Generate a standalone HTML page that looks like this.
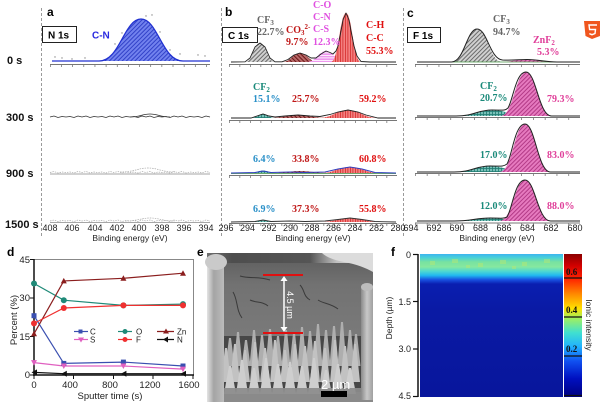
<!DOCTYPE html>
<html><head><meta charset="utf-8"><style>
html,body{margin:0;padding:0;background:#fff;}
svg{display:block;}
.t{font-family:"Liberation Sans",Arial,sans-serif;}
.s{font-family:"Liberation Serif","Times New Roman",serif;font-weight:bold;font-size:10px;}
</style></head><body>
<svg width="600" height="403" viewBox="0 0 600 403" xmlns="http://www.w3.org/2000/svg" class="t">
<defs>
<pattern id="pBlue" width="3" height="3" patternUnits="userSpaceOnUse" patternTransform="rotate(45)"><rect width="3" height="3" fill="#7282ee"/><rect width="1" height="3" fill="#3242c8"/></pattern>
<pattern id="pGrey" width="3" height="3" patternUnits="userSpaceOnUse" patternTransform="rotate(45)"><rect width="3" height="3" fill="#d0d0d0"/><rect width="1" height="3" fill="#6a6a6a"/></pattern>
<pattern id="pRed" width="2.5" height="3" patternUnits="userSpaceOnUse"><rect width="2.5" height="3" fill="#f48080"/><rect width="0.8" height="3" fill="#d42a2a"/></pattern>
<pattern id="pMag" width="3" height="2.5" patternUnits="userSpaceOnUse"><rect width="3" height="2.5" fill="#ee98ee"/><rect width="3" height="0.8" fill="#ffffff"/></pattern>
<pattern id="pDred" width="3" height="3" patternUnits="userSpaceOnUse" patternTransform="rotate(-45)"><rect width="3" height="3" fill="#b86868"/><rect width="1" height="3" fill="#6a1818"/></pattern>
<pattern id="pTeal" width="3" height="3" patternUnits="userSpaceOnUse"><rect width="3" height="3" fill="#78c0b8"/><rect width="0.8" height="3" fill="#1f7a70"/><rect width="3" height="0.8" fill="#1f7a70"/></pattern>
<pattern id="pPink" width="3" height="3" patternUnits="userSpaceOnUse" patternTransform="rotate(45)"><rect width="3" height="3" fill="#e67abf"/><rect width="1" height="3" fill="#b23a86"/></pattern>
<linearGradient id="gCbar" x1="0" y1="0" x2="0" y2="1">
<stop offset="0" stop-color="#8b0000"/><stop offset="0.08" stop-color="#d00000"/><stop offset="0.17" stop-color="#ff2000"/><stop offset="0.27" stop-color="#ff8000"/><stop offset="0.38" stop-color="#ffe000"/><stop offset="0.45" stop-color="#a0f060"/><stop offset="0.55" stop-color="#40e0d0"/><stop offset="0.65" stop-color="#20b0ff"/><stop offset="0.75" stop-color="#1050f0"/><stop offset="0.87" stop-color="#0010c0"/><stop offset="1" stop-color="#000080"/>
</linearGradient>
<linearGradient id="gHeat" x1="0" y1="0" x2="0" y2="1">
<stop offset="0" stop-color="#3cb4f0"/><stop offset="0.025" stop-color="#48d0d8"/><stop offset="0.055" stop-color="#78e2a0"/><stop offset="0.09" stop-color="#86e8a0"/><stop offset="0.12" stop-color="#50d8d0"/><stop offset="0.15" stop-color="#20b8f0"/><stop offset="0.18" stop-color="#1850e0"/><stop offset="0.21" stop-color="#0a1eb0"/><stop offset="0.4" stop-color="#0a1aa4"/><stop offset="1" stop-color="#08169c"/>
</linearGradient>
<linearGradient id="gTop" x1="0" y1="0" x2="1" y2="0">
<stop offset="0" stop-color="#707070"/><stop offset="0.15" stop-color="#4e4e4e"/><stop offset="0.62" stop-color="#555555"/><stop offset="0.78" stop-color="#c0c0c0"/><stop offset="1" stop-color="#e6e6e6"/>
</linearGradient>
<linearGradient id="gMid" x1="0" y1="0" x2="0" y2="1">
<stop offset="0" stop-color="#626262"/><stop offset="0.3" stop-color="#727272"/><stop offset="1" stop-color="#7a7a7a"/>
</linearGradient>
<linearGradient id="gPil" x1="0" y1="0" x2="1" y2="0">
<stop offset="0" stop-color="#e4e4e4"/><stop offset="0.4" stop-color="#a4a4a4"/><stop offset="1" stop-color="#bcbcbc"/>
</linearGradient>
<linearGradient id="gPil2" x1="0" y1="0" x2="1" y2="0">
<stop offset="0" stop-color="#8a8a8a"/><stop offset="0.5" stop-color="#c8c8c8"/><stop offset="1" stop-color="#a0a0a0"/>
</linearGradient>
<path id="zz" d="M0,0 l4,-1 4,1.5 4,-1 4,0.5 4,-0.5 4,1 4,-1.5 4,1 4,-1 4,1.5 4,-1 4,0.5 4,-0.5 4,1 4,-1.5 4,1 4,-1 4,1.5 4,-1 4,0.5 4,-0.5 4,1 4,-1.5 4,1 4,-1 4,1.5 4,-1 4,0.5 4,-0.5 4,1 4,-1.5 4,1 4,-1 4,1.5 4,-1 4,0.5 4,-0.5 4,1 4,-1.5 4,1"/>
</defs>
<rect width="600" height="403" fill="#fff"/>

<!-- separators -->
<g stroke="#9a9a9a" stroke-width="1" stroke-dasharray="3 2">
<line x1="41.5" y1="8" x2="41.5" y2="236"/>
<line x1="221.5" y1="8" x2="221.5" y2="236"/>
<line x1="403.5" y1="8" x2="403.5" y2="236"/>
</g>

<!-- row labels -->
<g font-weight="bold" font-size="11" fill="#111">
<text x="7" y="64">0 s</text>
<text x="6" y="121">300 s</text>
<text x="6" y="177">900 s</text>
<text x="5" y="228">1500 s</text>
</g>

<!-- ===== Panel a ===== -->
<text x="47" y="16" font-weight="bold" font-size="12">a</text>
<rect x="42.5" y="26.5" width="34" height="16" fill="#fff" stroke="#222"/>
<text x="48" y="38.5" font-weight="bold" font-size="10">N 1s</text>
<text x="92" y="38.5" font-weight="bold" font-size="10" fill="#2a2ae0">C-N</text>
<path d="M99,61 C120,61 124,19 141,19 C158,19 162,61 183,61 Z" fill="url(#pBlue)"/>
<path d="M52,61 L99,61 C120,61 124,19 141,19 C158,19 162,61 183,61 L210,61" fill="none" stroke="#2030d0" stroke-width="1.2"/>
<line x1="50" y1="64.5" x2="210" y2="64.5" stroke="#777" stroke-width="1"/>
<line x1="50" y1="66" x2="210" y2="66" stroke="#666" stroke-width="2" stroke-dasharray="0.7 10.45"/>
<g fill="#888">
<circle cx="55" cy="57" r="0.7"/><circle cx="62" cy="58" r="0.7"/><circle cx="72" cy="59" r="0.7"/><circle cx="85" cy="58" r="0.7"/><circle cx="115" cy="44" r="0.7"/><circle cx="122" cy="33" r="0.7"/><circle cx="146" cy="16" r="0.7"/><circle cx="152" cy="15" r="0.7"/><circle cx="160" cy="32" r="0.7"/><circle cx="170" cy="50" r="0.7"/><circle cx="180" cy="54" r="0.7"/><circle cx="198" cy="55" r="0.7"/><circle cx="205" cy="56" r="0.7"/>
</g>
<use href="#zz" x="50" y="117" fill="none" stroke="#333" stroke-width="0.8"/>
<path d="M130,117 C140,117 142,114 150,114 C158,114 160,117 170,117" fill="none" stroke="#333" stroke-width="0.8"/>
<line x1="50" y1="174" x2="210" y2="174" stroke="#888" stroke-width="0.8"/>
<use href="#zz" x="50" y="172.5" fill="none" stroke="#aaa" stroke-width="0.7" stroke-dasharray="1.5 1"/>
<path d="M120,172 C135,172 138,168 148,168 C158,168 161,172 175,172" fill="none" stroke="#aaa" stroke-width="0.7" stroke-dasharray="1.5 1"/>
<line x1="50" y1="222.5" x2="210" y2="222.5" stroke="#888" stroke-width="0.8"/>
<use href="#zz" x="50" y="221" fill="none" stroke="#aaa" stroke-width="0.7" stroke-dasharray="1.5 1"/>
<path d="M125,221 C138,221 141,218 150,218 C159,218 162,221 175,221" fill="none" stroke="#aaa" stroke-width="0.7" stroke-dasharray="1.5 1"/>

<!-- ===== Panel b ===== -->
<text x="225" y="16" font-weight="bold" font-size="12">b</text>
<rect x="222.5" y="27.5" width="35" height="15" fill="#fff" stroke="#222"/>
<text x="228" y="39" font-weight="bold" font-size="10">C 1s</text>
<!-- 0s -->
<path d="M245,62 C252.5,62 254,43 260,43 C266,43 267.5,62 275,62 Z" fill="url(#pGrey)"/>
<path d="M282,62 C291,62 292.8,53 300,53 C307.2,53 309,62 318,62 Z" fill="url(#pDred)"/>
<path d="M306.5,62 C316.25,62 318.2,51 326,51 C333.8,51 335.75,62 345.5,62 Z" fill="url(#pMag)"/>
<path d="M331,62 C338.5,62 340,13 346,13 C352,13 353.5,62 361,62 Z" fill="url(#pRed)"/>
<polyline points="231,62 245,61.8 250,58 255,47 260,43 265,47 270,58 275,61.8 282,61.8 288,59.5 294,55 300,53 306,55 311,58 316,58 321,54 326,51 330,52.5 333,54 336,51 338,46 341,31 343,20 346,13 349,20 351,31 354,46 357,56 361,61.5 370,62 396,62" fill="none" stroke="#222" stroke-width="0.9" stroke-linejoin="round"/>
<line x1="229" y1="64.5" x2="397" y2="64.5" stroke="#777"/>
<line x1="229" y1="66" x2="397" y2="66" stroke="#666" stroke-width="2" stroke-dasharray="0.7 9.8"/>
<text class="s" x="257" y="23" fill="#666">CF<tspan font-size="7" dy="2">3</tspan></text>
<text class="s" x="257" y="35" fill="#666">22.7%</text>
<text class="s" x="286" y="33" fill="#c01818">CO<tspan font-size="7" dy="2">3</tspan><tspan font-size="7" dy="-6">2-</tspan></text>
<text class="s" x="286" y="45" fill="#c01818">9.7%</text>
<text class="s" x="313" y="8" fill="#e050e0">C-O</text>
<text class="s" x="313" y="20" fill="#e050e0">C-N</text>
<text class="s" x="313" y="32" fill="#e050e0">C-S</text>
<text class="s" x="313" y="45" fill="#e050e0">12.3%</text>
<text class="s" x="366" y="28" fill="#e01010">C-H</text>
<text class="s" x="366" y="41" fill="#e01010">C-C</text>
<text class="s" x="366" y="54" fill="#e01010">55.3%</text>
<!-- 300s -->
<path d="M268,118 C283,118 286,115 298,115 C310,115 313,118 328,118 Z" fill="url(#pDred)"/>
<path d="M318,118 C333,118 336,110 348,110 C360,110 363,118 378,118 Z" fill="url(#pRed)"/>
<path d="M251,118 C257,118 258.2,114 263,114 C267.8,114 269,118 275,118 Z" fill="url(#pTeal)"/>
<polyline points="231,118 251,118 257,116 263,114 269,116 275,117 285,116 298,115 310,116 320,116.5 330,114.5 338,112 348,110 358,112 366,115 378,118 396,118" fill="none" stroke="#222" stroke-width="0.9"/>
<line x1="229" y1="120.5" x2="397" y2="120.5" stroke="#777"/>
<line x1="229" y1="122" x2="397" y2="122" stroke="#666" stroke-width="2" stroke-dasharray="0.7 9.8"/>
<text class="s" x="253" y="90" fill="#1a8a7a">CF<tspan font-size="7" dy="2">2</tspan></text>
<text class="s" x="253" y="102" fill="#2a90c8">15.1%</text>
<text class="s" x="292" y="102" fill="#c01818">25.7%</text>
<text class="s" x="359" y="102" fill="#e01010">59.2%</text>
<!-- 900s -->
<path d="M270,173 C285,173 288,171 300,171 C312,171 315,173 330,173 Z" fill="url(#pDred)"/>
<path d="M320,173 C335,173 338,167 350,167 C362,167 365,173 380,173 Z" fill="url(#pRed)"/>
<path d="M251,173 C257,173 258.2,170.5 263,170.5 C267.8,170.5 269,173 275,173 Z" fill="url(#pTeal)"/>
<line x1="231" y1="173.5" x2="396" y2="173.5" stroke="#3a8a3a" stroke-width="0.8"/>
<polyline points="231,173 255,172.5 263,171 271,172.5 290,172 305,172.5 325,172 338,169 350,167 362,169 375,172.5 396,173" fill="none" stroke="#3040c0" stroke-width="1"/>
<line x1="229" y1="175.5" x2="397" y2="175.5" stroke="#777"/>
<line x1="229" y1="177" x2="397" y2="177" stroke="#666" stroke-width="2" stroke-dasharray="0.7 9.8"/>
<text class="s" x="253" y="162" fill="#2a90c8">6.4%</text>
<text class="s" x="292" y="162" fill="#c01818">33.8%</text>
<text class="s" x="359" y="162" fill="#e01010">60.8%</text>
<!-- 1500s -->
<path d="M320,222 C335,222 338,218 350,218 C362,218 365,222 380,222 Z" fill="url(#pRed)"/>
<path d="M251,222 C257,222 258.2,220 263,220 C267.8,220 269,222 275,222 Z" fill="url(#pTeal)"/>
<polyline points="231,222 255,221.5 263,220 271,221.5 290,221 305,221.5 325,221 338,219.5 350,218 362,219.5 375,221.5 396,222" fill="none" stroke="#333" stroke-width="0.9"/>
<line x1="229" y1="223.5" x2="397" y2="223.5" stroke="#777"/>
<line x1="229" y1="225" x2="397" y2="225" stroke="#666" stroke-width="2" stroke-dasharray="0.7 9.8"/>
<text class="s" x="253" y="212" fill="#2a90c8">6.9%</text>
<text class="s" x="292" y="212" fill="#c01818">37.3%</text>
<text class="s" x="359" y="212" fill="#e01010">55.8%</text>

<!-- ===== Panel c ===== -->
<text x="407" y="17" font-weight="bold" font-size="12">c</text>
<rect x="407.5" y="27.5" width="33" height="15" fill="#fff" stroke="#222"/>
<text x="413" y="39" font-weight="bold" font-size="10">F 1s</text>
<!-- 0s -->
<path d="M451.5,62 C464.25,62 466.8,29 477,29 C487.2,29 489.75,62 502.5,62 Z" fill="url(#pGrey)"/>
<path d="M497,62 C512,62 515,59.5 527,59.5 C539,59.5 542,62 557,62 Z" fill="url(#pPink)"/>
<line x1="417" y1="62" x2="580" y2="62" stroke="#4a9a4a" stroke-width="0.8"/>
<path d="M417,62 L451.5,62 C464.25,62 466.8,29 477,29 C487.2,29 489.75,59 502.5,60 C512,60.5 520,59.5 527,59.5 C539,59.5 545,62 557,62 L580,62" fill="none" stroke="#222" stroke-width="1"/>
<line x1="415" y1="64.5" x2="580" y2="64.5" stroke="#777"/>
<line x1="415" y1="66" x2="580" y2="66" stroke="#666" stroke-width="2" stroke-dasharray="0.7 11.1"/>
<text class="s" x="493" y="22" fill="#666">CF<tspan font-size="7" dy="2">3</tspan></text>
<text class="s" x="493" y="35" fill="#666">94.7%</text>
<text class="s" x="533" y="43" fill="#e0409a">ZnF<tspan font-size="7" dy="2">2</tspan></text>
<text class="s" x="537" y="55" fill="#e0409a">5.3%</text>
<!-- 300s -->
<path d="M456,116 C474,116 477.6,110 492,110 C506.4,110 510,116 528,116 Z" fill="url(#pTeal)"/>
<path d="M500.5,116 C513.25,116 515.8,72 526,72 C536.2,72 538.75,116 551.5,116 Z" fill="url(#pPink)"/>
<path d="M417,116 L456,116 C474,116 477.6,110 492,110 C502,110 505,111 508,108 C513,100 515.8,72 526,72 C536.2,72 538.75,116 551.5,116 L580,116" fill="none" stroke="#222" stroke-width="1"/>
<line x1="415" y1="117.5" x2="580" y2="117.5" stroke="#777"/>
<line x1="415" y1="119" x2="580" y2="119" stroke="#666" stroke-width="2" stroke-dasharray="0.7 11.1"/>
<text class="s" x="480" y="89" fill="#1a8a7a">CF<tspan font-size="7" dy="2">2</tspan></text>
<text class="s" x="480" y="101" fill="#1a8a7a">20.7%</text>
<text class="s" x="547" y="102" fill="#e0409a">79.3%</text>
<!-- 900s -->
<path d="M454,172 C472,172 475.6,166 490,166 C504.4,166 508,172 526,172 Z" fill="url(#pTeal)"/>
<path d="M499.5,172 C512.25,172 514.8,124 525,124 C535.2,124 537.75,172 550.5,172 Z" fill="url(#pPink)"/>
<path d="M417,172 L454,172 C472,172 475.6,166 490,166 C500,166 503,167 507,164 C512,156 514.8,124 525,124 C535.2,124 537.75,172 550.5,172 L580,172" fill="none" stroke="#222" stroke-width="1"/>
<line x1="415" y1="173.5" x2="580" y2="173.5" stroke="#777"/>
<line x1="415" y1="175" x2="580" y2="175" stroke="#666" stroke-width="2" stroke-dasharray="0.7 11.1"/>
<text class="s" x="480" y="158" fill="#1a8a7a">17.0%</text>
<text class="s" x="547" y="158" fill="#e0409a">83.0%</text>
<!-- 1500s -->
<path d="M454,221 C472,221 475.6,218 490,218 C504.4,218 508,221 526,221 Z" fill="url(#pTeal)"/>
<path d="M499.5,221 C512.25,221 514.8,180 525,180 C535.2,180 537.75,221 550.5,221 Z" fill="url(#pPink)"/>
<path d="M417,221 L454,221 C472,221 475.6,218 490,218 C500,218 503,219 507,217 C512,210 514.8,180 525,180 C535.2,180 537.75,221 550.5,221 L580,221" fill="none" stroke="#222" stroke-width="1"/>
<line x1="415" y1="223" x2="580" y2="223" stroke="#777"/>
<line x1="415" y1="224.5" x2="580" y2="224.5" stroke="#666" stroke-width="2" stroke-dasharray="0.7 11.1"/>
<text class="s" x="480" y="209" fill="#1a8a7a">12.0%</text>
<text class="s" x="547" y="209" fill="#e0409a">88.0%</text>

<!-- bottom axis tick labels -->
<g font-size="9" fill="#222" text-anchor="middle">
<text x="50" y="231">408</text><text x="72" y="231">406</text><text x="95" y="231">404</text><text x="117" y="231">402</text><text x="139" y="231">400</text><text x="162" y="231">398</text><text x="184" y="231">396</text><text x="206" y="231">394</text>
<text x="226" y="231">296</text><text x="247.5" y="231">294</text><text x="269" y="231">292</text><text x="290.5" y="231">290</text><text x="312" y="231">288</text><text x="333.5" y="231">286</text><text x="355" y="231">284</text><text x="376.5" y="231">282</text><text x="398" y="231">280</text>
<text x="411" y="231">694</text><text x="434" y="231">692</text><text x="457" y="231">690</text><text x="480.5" y="231">688</text><text x="504" y="231">686</text><text x="527.5" y="231">684</text><text x="551" y="231">682</text><text x="575" y="231">680</text>
</g>
<g font-size="8.5" fill="#222" text-anchor="middle">
<text x="130" y="241">Binding energy (eV)</text>
<text x="313" y="241">Binding energy (eV)</text>
<text x="497" y="241">Binding energy (eV)</text>
</g>

<!-- icon -->
<path d="M584,21 H600 V36 L592,39 L585.5,36 Z" fill="#f0561e"/>
<path d="M597,25 H589 L589.6,29.5 H595.5 L595,33.5 L592,34.7 L589.3,33.6" fill="none" stroke="#fff" stroke-width="1.4"/>

<!-- ===== Panel d ===== -->
<text x="7" y="256" font-weight="bold" font-size="12">d</text>
<line x1="34" y1="259.5" x2="193" y2="259.5" stroke="#888"/>
<line x1="193.5" y1="259" x2="193.5" y2="375" stroke="#888"/>
<line x1="34" y1="259" x2="34" y2="376" stroke="#111" stroke-width="1.5"/>
<line x1="33" y1="375" x2="194" y2="375" stroke="#111" stroke-width="1.5"/>
<g stroke="#111" stroke-width="1">
<line x1="30" y1="259.5" x2="34" y2="259.5"/><line x1="30" y1="298" x2="34" y2="298"/><line x1="30" y1="336.5" x2="34" y2="336.5"/><line x1="30" y1="375" x2="34" y2="375"/>
<line x1="34" y1="375" x2="34" y2="379"/><line x1="73.5" y1="375" x2="73.5" y2="379"/><line x1="113.5" y1="375" x2="113.5" y2="379"/><line x1="153" y1="375" x2="153" y2="379"/><line x1="193" y1="375" x2="193" y2="379"/>
</g>
<g font-size="9.5" fill="#222" text-anchor="end">
<text x="30" y="263">45</text><text x="30" y="301">30</text><text x="30" y="340">15</text><text x="30" y="378">0</text>
</g>
<g font-size="9.5" fill="#222" text-anchor="middle">
<text x="34" y="388">0</text><text x="70" y="388">400</text><text x="110" y="388">800</text><text x="150" y="388">1200</text><text x="189" y="388">1600</text>
</g>
<text x="110" y="399" font-size="9.5" fill="#222" text-anchor="middle">Sputter time (s)</text>
<text transform="translate(17,320) rotate(-90)" font-size="9.5" fill="#222" text-anchor="middle">Percent (%)</text>
<!-- series -->
<polyline points="34,315.7 63.8,363.4 123.4,362.1 183,366" fill="none" stroke="#3a4fb0" stroke-width="1.2"/>
<polyline points="34,283.5 63.8,300.2 123.4,305.4 183,304.1" fill="none" stroke="#1f8a78" stroke-width="1.2"/>
<polyline points="34,333.8 63.8,280.9 123.4,278.3 183,273.2" fill="none" stroke="#8b1e1e" stroke-width="1.2"/>
<polyline points="34,323.4 63.8,308 123.4,305.4 183,305.4" fill="none" stroke="#f03030" stroke-width="1.2"/>
<polyline points="34,362.6 63.8,366 123.4,366 183,369.1" fill="none" stroke="#e060c0" stroke-width="1.2"/>
<polyline points="34,372.4 63.8,373.7 123.4,373.7 183,373.7" fill="none" stroke="#111" stroke-width="1.2"/>
<g fill="#3a4fb0"><rect x="31.5" y="313.2" width="5" height="5"/><rect x="61.3" y="360.9" width="5" height="5"/><rect x="120.9" y="359.6" width="5" height="5"/><rect x="180.5" y="363.5" width="5" height="5"/></g>
<g fill="#1f8a78"><circle cx="34" cy="283.5" r="3"/><circle cx="63.8" cy="300.2" r="3"/><circle cx="123.4" cy="305.4" r="3"/><circle cx="183" cy="304.1" r="3"/></g>
<g fill="#f03030"><circle cx="34" cy="323.4" r="3"/><circle cx="63.8" cy="308" r="3"/><circle cx="123.4" cy="305.4" r="3"/><circle cx="183" cy="305.4" r="3"/></g>
<g fill="#8b1e1e"><polygon points="31,336.3 37,336.3 34,330.8"/><polygon points="60.8,283.4 66.8,283.4 63.8,277.9"/><polygon points="120.4,280.8 126.4,280.8 123.4,275.3"/><polygon points="180,275.7 186,275.7 183,270.2"/></g>
<g fill="#e060c0"><polygon points="31,360.1 37,360.1 34,365.6"/><polygon points="60.8,363.5 66.8,363.5 63.8,369"/><polygon points="120.4,363.5 126.4,363.5 123.4,369"/><polygon points="180,366.6 186,366.6 183,372.1"/></g>
<g fill="#111"><polygon points="37,369.4 37,375.4 31.5,372.4"/><polygon points="66.8,370.7 66.8,376.7 61.3,373.7"/><polygon points="126.4,370.7 126.4,376.7 120.9,373.7"/><polygon points="186,370.7 186,376.7 180.5,373.7"/></g>
<!-- legend -->
<g stroke-width="1.2">
<line x1="74" y1="331.5" x2="88" y2="331.5" stroke="#3a4fb0"/><rect x="78.5" y="329.5" width="4" height="4" fill="#3a4fb0"/>
<line x1="118" y1="331.5" x2="132" y2="331.5" stroke="#1f8a78"/><circle cx="125" cy="331.5" r="2.5" fill="#1f8a78"/>
<line x1="157" y1="331.5" x2="174" y2="331.5" stroke="#8b1e1e"/><polygon points="163,333.5 169,333.5 166,328.5" fill="#8b1e1e"/>
<line x1="74" y1="339.5" x2="88" y2="339.5" stroke="#e060c0"/><polygon points="78,337.5 84,337.5 81,342.5" fill="#e060c0"/>
<line x1="118" y1="339.5" x2="132" y2="339.5" stroke="#f03030"/><circle cx="125" cy="339.5" r="2.5" fill="#f03030"/>
<line x1="157" y1="339.5" x2="174" y2="339.5" stroke="#111"/><polygon points="168,336.5 168,342.5 163,339.5" fill="#111"/>
</g>
<g font-size="8" fill="#222">
<text x="90" y="334.5">C</text><text x="136" y="334.5">O</text><text x="177" y="334.5">Zn</text>
<text x="90" y="342.5">S</text><text x="136" y="342.5">F</text><text x="177" y="342.5">N</text>
</g>

<!-- ===== Panel e (SEM) ===== -->
<text x="197" y="256" font-weight="bold" font-size="12">e</text>
<rect x="207" y="253" width="166" height="149" fill="#707070"/>
<rect x="207" y="262" width="166" height="76" fill="url(#gMid)"/>
<rect x="207" y="253" width="166" height="10" fill="url(#gTop)"/>
<path d="M322,253 L373,253 L373,272 C366,268 356,264 344,262 C334,260 326,257 322,253 Z" fill="#dcdcdc"/>
<g fill="none" stroke="#3a3a3a" stroke-width="1">
<path d="M233,292 C238,300 236,310 242,318"/><path d="M250,300 C256,303 262,301 268,306"/><path d="M318,300 C324,304 330,303 338,309"/><path d="M300,285 C305,290 303,296 310,300"/><path d="M240,276 C250,279 258,276 270,280"/>
</g>
<rect x="224" y="336" width="138" height="56" fill="#474747"/>
<path fill="#aeaeae" d="M225.5,366L229,338L231,338L234.5,366ZM233.5,366L237,332L239,332L242.5,366ZM241.5,366L245,340L247,340L250.5,366ZM249.5,366L253,330L255,330L258.5,366ZM257.5,366L261,335L263,335L266.5,366ZM265.5,366L269,329L271,329L274.5,366ZM273.5,366L277,336L279,336L282.5,366ZM281.5,366L285,330L287,330L290.5,366ZM289.5,366L293,333L295,333L298.5,366ZM297.5,366L301,327L303,327L306.5,366ZM305.5,366L309,331L311,331L314.5,366ZM313.5,366L317,324L319,324L322.5,366ZM321.5,366L325,330L327,330L330.5,366ZM329.5,366L333,326L335,326L338.5,366ZM337.5,366L341,322L343,322L346.5,366ZM345.5,366L349,330L351,330L354.5,366ZM351.5,366L355,334L357,334L360.5,366Z"/>
<path fill="#c2c2c2" d="M221,382L225,348L227,348L231,382ZM230,382L234,344L236,344L240,382ZM240,382L244,350L246,350L250,382ZM250,382L254,342L256,342L260,382ZM260,382L264,348L266,348L270,382ZM270,382L274,340L276,340L280,382ZM280,382L284,350L286,350L290,382ZM290,382L294,344L296,344L300,382ZM300,382L304,346L306,346L310,382ZM310,382L314,341L316,341L320,382ZM320,382L324,348L326,348L330,382ZM330,382L334,340L336,340L340,382ZM340,382L344,346L346,346L350,382ZM350,382L354,344L356,344L360,382Z"/>
<path fill="#cecece" d="M224,394L229,366L231,366L236,394ZM236,394L241,360L243,360L248,394ZM248,394L253,368L255,368L260,394ZM260,394L265,358L267,358L272,394ZM272,394L277,364L279,364L284,394ZM284,394L289,362L291,362L296,394ZM296,394L301,366L303,366L308,394ZM308,394L313,358L315,358L320,394ZM320,394L325,370L327,370L332,394ZM332,394L337,364L339,364L344,394ZM344,394L349,368L351,368L356,394Z"/>
<rect x="207" y="388" width="166" height="14" fill="#8c8c8c" opacity="0.92"/>
<rect x="207" y="262" width="17" height="140" fill="url(#gPil)"/>
<ellipse cx="216" cy="262" rx="11" ry="8" fill="#cacaca"/>
<rect x="361" y="286" width="12" height="114" fill="url(#gPil2)"/>
<ellipse cx="367" cy="287" rx="6" ry="4" fill="#bcbcbc"/>
<line x1="263" y1="275" x2="303" y2="275" stroke="#e01010" stroke-width="2"/>
<line x1="263" y1="333" x2="303" y2="333" stroke="#e01010" stroke-width="2"/>
<line x1="284" y1="279" x2="284" y2="329" stroke="#fff" stroke-width="1.5"/>
<polygon points="280.5,281 287.5,281 284,276" fill="#fff"/>
<polygon points="280.5,327 287.5,327 284,332" fill="#fff"/>
<text transform="translate(287,305) rotate(90)" font-size="9" fill="#fff" text-anchor="middle">4.5 µm</text>
<text x="321" y="389" font-size="13" fill="#fff">2 µm</text>
<rect x="321" y="391" width="26" height="6" fill="#000"/>

<!-- ===== Panel f ===== -->
<text x="391" y="256" font-weight="bold" font-size="12">f</text>
<rect x="420" y="254" width="143" height="143" fill="url(#gHeat)"/>
<g fill="#b0e878" opacity="0.55">
<rect x="430" y="261" width="5" height="4"/><rect x="452" y="259" width="6" height="4"/><rect x="478" y="263" width="5" height="4"/><rect x="500" y="260" width="6" height="4"/><rect x="522" y="262" width="5" height="4"/><rect x="544" y="259" width="6" height="4"/><rect x="466" y="265" width="4" height="3"/><rect x="512" y="266" width="4" height="3"/>
</g>
<line x1="418" y1="254" x2="418" y2="397" stroke="#111" stroke-width="1.5"/>
<g stroke="#111" stroke-width="1.2">
<line x1="413" y1="254.5" x2="418" y2="254.5"/><line x1="413" y1="301.5" x2="418" y2="301.5"/><line x1="413" y1="349" x2="418" y2="349"/><line x1="413" y1="396.5" x2="418" y2="396.5"/>
</g>
<g font-size="9" fill="#222" text-anchor="end">
<text x="411" y="258">0</text><text x="411" y="305">1.5</text><text x="411" y="352">3.0</text><text x="411" y="399">4.5</text>
</g>
<text transform="translate(392,318) rotate(-90)" font-size="8.5" fill="#222" text-anchor="middle">Depth (µm)</text>
<rect x="564" y="254" width="18" height="143" fill="url(#gCbar)"/>
<g stroke="#111" stroke-width="1.3">
<line x1="564" y1="278" x2="582" y2="278"/><line x1="564" y1="317" x2="582" y2="317"/><line x1="564" y1="356" x2="582" y2="356"/><line x1="564" y1="395.5" x2="582" y2="395.5"/>
</g>
<g font-family="Liberation Serif,serif" font-weight="bold" font-size="9" fill="#111">
<text x="566" y="275">0.6</text><text x="566" y="313">0.4</text><text x="566" y="352">0.2</text>
</g>
<text transform="translate(586,325) rotate(90)" font-size="8.5" fill="#222" text-anchor="middle">Ionic intensity</text>
</svg>
</body></html>
